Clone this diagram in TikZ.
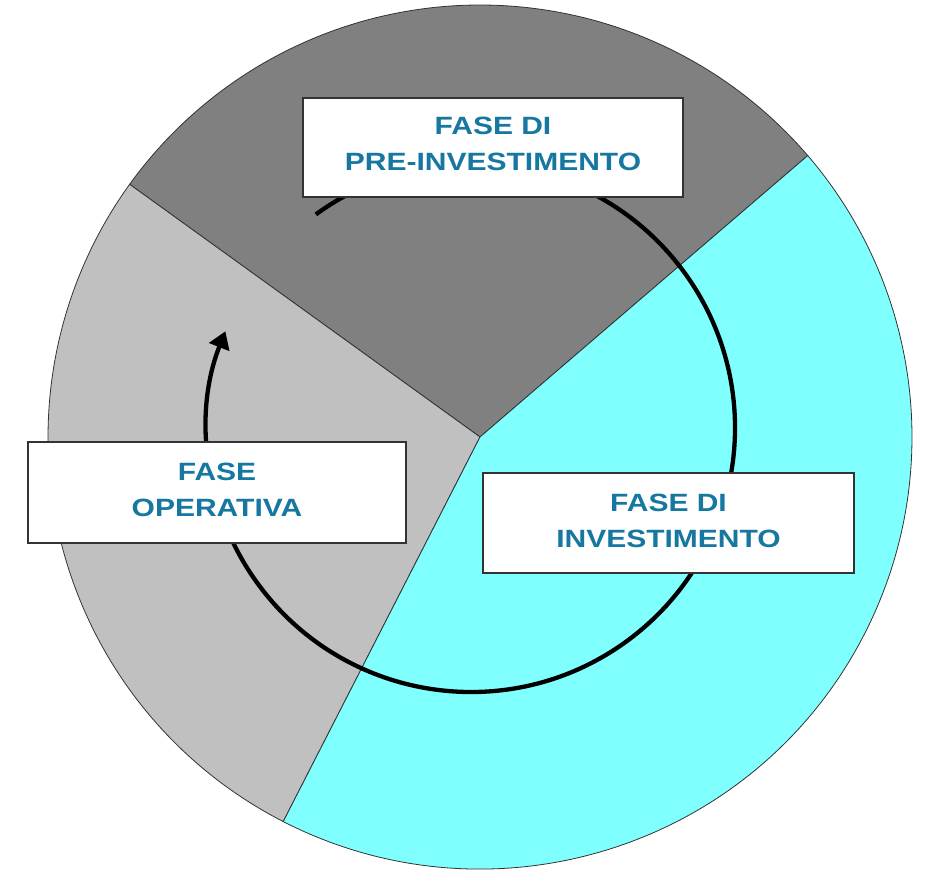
\documentclass[tikz,border=0pt]{standalone}
\usepackage{fontspec}
\newfontfamily\labfont{Liberation Sans}[FakeStretch=1.2]
\usetikzlibrary{arrows.meta}
\definecolor{darkgraysec}{HTML}{808080}
\definecolor{lightgraysec}{HTML}{C0C0C0}
\definecolor{cyansec}{HTML}{80FFFF}
\definecolor{labelblue}{RGB}{22,120,160}
\begin{document}
\begin{tikzpicture}[x=1pt,y=1pt,
  sector/.style={draw=black!80, line width=0.8pt},
  phasebox/.style={draw=black!80, line width=1.2pt, fill=white, align=center,
    font=\labfont\bfseries\fontsize{25}{36}\selectfont, text=labelblue, inner sep=0pt},
  cyclearrow/.style={line width=4.3pt, -{Triangle[length=17pt,width=21pt]}}]
\useasboundingbox (0,0) rectangle (925,870);
\coordinate (c) at (480,433);
\filldraw[sector, fill=darkgraysec] (c) -- ++(40.65:432) arc[start angle=40.65, end angle=144.2, radius=432] -- cycle;
\filldraw[sector, fill=lightgraysec] (c) -- ++(144.2:432) arc[start angle=144.2, end angle=242.9, radius=432] -- cycle;
\filldraw[sector, fill=cyansec] (c) -- ++(242.9:432) arc[start angle=242.9, end angle=400.65, radius=432] -- cycle;
\coordinate (o) at (471,442);
\draw[cyclearrow] ([shift={(126:264)}]o) arc[start angle=126, end angle=-201.5, radius=264];
\node[phasebox, minimum width=380pt, minimum height=99pt, text depth=8pt] (pre) at (493,722.5) {FASE DI\\PRE-INVESTIMENTO};
\node[phasebox, minimum width=378pt, minimum height=101pt, text depth=6pt] (oper) at (217,377.5) {FASE\\OPERATIVA};
\node[phasebox, minimum width=371pt, minimum height=100pt, text depth=5pt] (inv) at (668.5,347) {FASE DI\\INVESTIMENTO};
\end{tikzpicture}
\end{document}
